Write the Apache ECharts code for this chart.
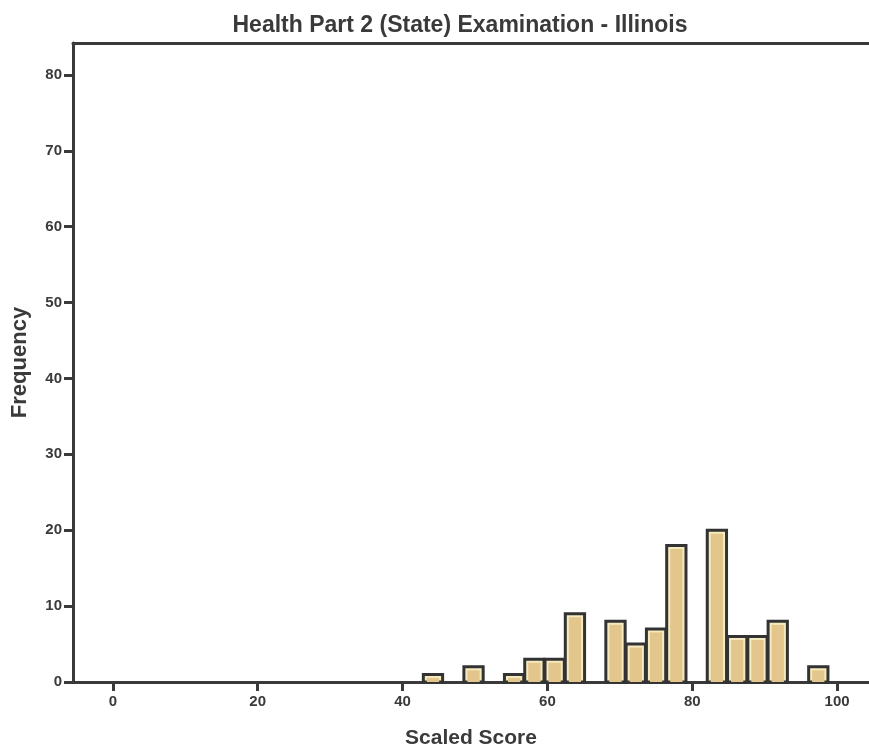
<!DOCTYPE html>
<html><head><meta charset="utf-8">
<script src="https://cdn.jsdelivr.net/npm/echarts@6/dist/echarts.min.js"></script>
<style>html,body{margin:0;padding:0;background:#fff}#c{width:869px;height:749px}</style>
</head><body><div id="c"></div>
<script>
const binCenters = [44.2, 49.8, 55.4, 58.2, 61.0, 63.8, 69.4, 72.2, 75.0, 77.8, 83.4, 86.2, 89.0, 91.8, 97.4];
const counts     = [1, 2, 1, 3, 3, 9, 8, 5, 7, 18, 20, 6, 6, 8, 2];
const binWidth = 2.8;
const xTicks = [0, 20, 40, 60, 80, 100];
const yTicks = [0, 10, 20, 30, 40, 50, 60, 70, 80];

const chart = echarts.init(document.getElementById('c'));
const font = 'Liberation Sans, Arial, sans-serif';
const dark = '#3a3a3a';
chart.setOption({
  animation: false,
  title: {text: 'Health Part 2 (State) Examination - Illinois', left: 455, textAlign: 'center', top: 9,
    textStyle: {fontFamily: font, fontSize: 23, fontWeight: 'bold', color: dark}},
  grid: {left: 73, top: 43, right: 0, bottom: 67, outerBoundsMode: 'none', containLabel: false},
  xAxis: [{
    type: 'value', min: -5.5, max: 104.4,
    name: 'Scaled Score', nameLocation: 'middle', nameGap: 46,
    nameTextStyle: {fontFamily: font, fontSize: 21, fontWeight: 'bold', color: dark},
    axisLine: {show: true, onZero: false, lineStyle: {color: dark, width: 3}},
    axisTick: {show: true, length: 9, lineStyle: {color: dark, width: 3}, customValues: xTicks},
    axisLabel: {fontFamily: font, fontSize: 15, fontWeight: 'bold', color: dark, margin: 12, customValues: xTicks},
    splitLine: {show: false}
  }, {
    type: 'value', position: 'top', min: -5.5, max: 104.4,
    axisLine: {show: true, onZero: false, lineStyle: {color: dark, width: 3}},
    axisTick: {show: false}, axisLabel: {show: false}, splitLine: {show: false}
  }],
  yAxis: {
    type: 'value', min: 0, max: 84.2,
    name: 'Frequency', nameLocation: 'middle', nameGap: 42, nameRotate: 90,
    nameTextStyle: {fontFamily: font, fontSize: 22, fontWeight: 'bold', color: dark},
    axisLine: {show: true, onZero: false, lineStyle: {color: dark, width: 3}},
    axisTick: {show: true, length: 9, lineStyle: {color: dark, width: 3}, customValues: yTicks},
    axisLabel: {fontFamily: font, fontSize: 15, fontWeight: 'bold', color: dark, margin: 11, customValues: yTicks},
    splitLine: {show: false}
  },
  series: [{
    type: 'custom',
    data: binCenters.map((c, i) => [c, counts[i]]),
    renderItem: function (params, api) {
      const c = api.value(0), v = api.value(1);
      const p0 = api.coord([c - binWidth / 2, v]);
      const p1 = api.coord([c + binWidth / 2, 0]);
      const x = p0[0] + 0.5, y = p0[1], w = p1[0] - p0[0] - 1, h = p1[1] - p0[1];
      return {
        type: 'group',
        children: [
          {type: 'rect', shape: {x: x, y: y, width: w, height: h},
            style: {fill: '#f6ebbf', stroke: '#333', lineWidth: 3}},
          {type: 'rect', shape: {x: x + 3.5, y: y + 3.5, width: Math.max(w - 7, 0), height: Math.max(h - 3.5, 0)},
            style: {fill: '#e3c68c', stroke: null}}
        ]
      };
    }
  }]
});
</script></body></html>
